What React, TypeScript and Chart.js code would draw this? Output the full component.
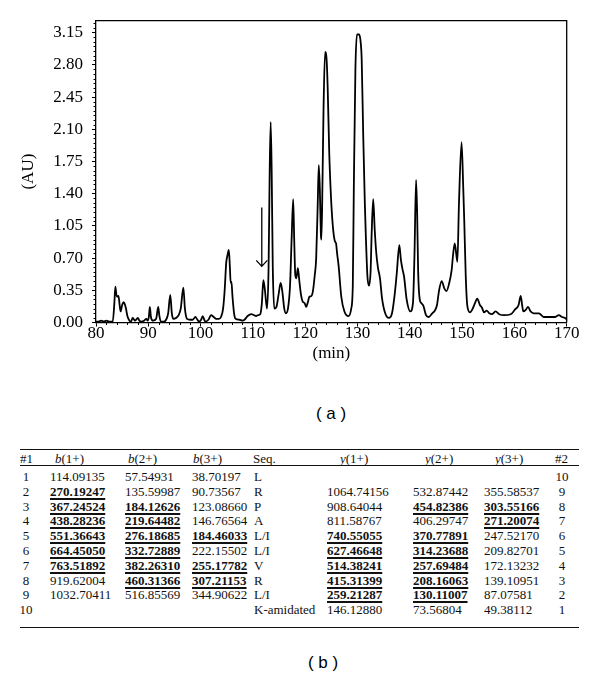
import React, { useEffect, useRef } from "react";
import { Chart, registerables } from "chart.js";
Chart.register(...registerables);

// ---- Chromatogram (a) ----
const retentionTimes = [
  80.0, 80.5, 81.0, 81.5, 82.0, 82.5, 83.2, 83.5, 83.7, 83.9, 84.1, 84.3, 84.5, 84.7, 85.0, 85.3, 85.7, 86.0, 86.4, 86.7,
  87.0, 87.3, 87.5, 87.8, 88.0, 88.3, 88.6, 89.2, 89.6, 89.9, 90.1, 90.3, 90.5, 90.9, 91.5, 91.9, 92.1, 92.4, 93.0, 93.4,
  93.8, 94.2, 94.5, 94.8, 95.3, 95.8, 96.2, 96.7, 97.0, 97.4, 98.0, 98.5, 99.0, 99.4, 99.7, 100.1, 100.4, 100.7, 100.9, 101.5,
  102.0, 102.5, 103.0, 103.5, 103.9, 104.3, 104.6, 104.9, 105.1, 105.4, 105.6, 105.75, 105.9, 106.1, 106.4, 106.7, 107.4, 108.0, 108.4, 109.0,
  109.7, 110.2, 110.6, 111.0, 111.4, 111.7, 112.0, 112.3, 112.7, 113.0, 113.2, 113.4, 113.6, 113.8, 114.1, 114.5, 114.9, 115.3, 115.6, 116.0,
  116.3, 116.7, 117.1, 117.4, 117.7, 117.9, 118.1, 118.3, 118.6, 118.9, 119.2, 119.5, 119.9, 120.2, 120.5, 120.8, 121.2, 121.5, 121.8, 122.1,
  122.4, 122.6, 122.8, 123.0, 123.1, 123.3, 123.5, 123.8, 124.1, 124.3, 124.6, 124.9, 125.1, 125.4, 125.7, 125.9, 126.1, 126.4, 126.9, 127.5,
  128.3, 128.8, 129.1, 129.3, 129.6, 129.9, 130.3, 130.6, 130.8, 131.1, 131.4, 131.6, 131.9, 132.2, 132.5, 132.7, 133.0, 133.3, 133.6, 133.9,
  134.3, 134.7, 135.3, 136.0, 136.6, 137.1, 137.5, 138.0, 138.3, 138.6, 138.9, 139.4, 140.1, 140.6, 140.9, 141.2, 141.4, 141.6, 141.9, 142.2,
  142.6, 143.1, 143.6, 144.3, 144.8, 145.2, 145.6, 146.1, 146.6, 147.0, 147.5, 148.0, 148.3, 148.6, 149.1, 149.4, 149.9, 150.2, 150.4, 150.7,
  151.0, 151.5, 152.1, 152.6, 152.9, 153.4, 153.8, 154.2, 154.7, 155.2, 155.7, 156.4, 157.1, 158.0, 159.3, 160.1, 160.8, 161.2, 161.5, 161.7,
  162.2, 162.6, 163.1, 163.7, 164.7, 165.6, 166.9, 167.8, 168.5, 169.1, 169.9, 170.0,
];
const absorbances = [
  0.01, 0.01, 0.02, 0.01, 0.02, 0.01, 0.01, 0.20, 0.39, 0.30, 0.28, 0.29, 0.20, 0.12, 0.19, 0.22, 0.16, 0.07, 0.02, 0.01,
  0.05, 0.03, 0.02, 0.04, 0.05, 0.02, 0.01, 0.02, 0.04, 0.02, 0.06, 0.17, 0.06, 0.02, 0.04, 0.17, 0.08, 0.01, 0.01, 0.03,
  0.10, 0.30, 0.10, 0.04, 0.05, 0.08, 0.15, 0.38, 0.15, 0.04, 0.03, 0.03, 0.06, 0.03, 0.01, 0.03, 0.07, 0.03, 0.01, 0.03,
  0.08, 0.06, 0.04, 0.04, 0.06, 0.15, 0.35, 0.65, 0.72, 0.79, 0.60, 0.43, 0.44, 0.28, 0.10, 0.04, 0.03, 0.02, 0.03, 0.07,
  0.09, 0.08, 0.07, 0.08, 0.09, 0.20, 0.46, 0.35, 0.15, 0.60, 1.60, 2.18, 1.60, 0.60, 0.15, 0.17, 0.30, 0.43, 0.35, 0.15,
  0.10, 0.15, 0.40, 0.90, 1.34, 0.90, 0.52, 0.48, 0.59, 0.44, 0.30, 0.23, 0.21, 0.17, 0.22, 0.28, 0.29, 0.35, 0.50, 0.70,
  1.30, 1.71, 1.45, 0.95, 0.90, 1.50, 2.30, 2.94, 2.85, 2.55, 1.84, 1.40, 1.19, 0.98, 0.88, 0.86, 0.75, 0.61, 0.28, 0.12,
  0.07, 0.15, 0.40, 1.48, 2.75, 3.13, 3.13, 3.05, 2.86, 2.02, 1.30, 0.93, 0.50, 0.40, 0.55, 0.95, 1.34, 1.00, 0.75, 0.60,
  0.48, 0.26, 0.10, 0.05, 0.10, 0.30, 0.53, 0.84, 0.68, 0.58, 0.50, 0.25, 0.12, 0.21, 0.75, 1.55, 1.20, 0.55, 0.25, 0.21,
  0.18, 0.08, 0.06, 0.10, 0.13, 0.19, 0.35, 0.45, 0.37, 0.34, 0.42, 0.57, 0.75, 0.86, 0.66, 1.29, 1.96, 1.50, 1.13, 0.50,
  0.18, 0.11, 0.16, 0.23, 0.26, 0.19, 0.16, 0.11, 0.13, 0.10, 0.09, 0.12, 0.09, 0.08, 0.09, 0.14, 0.19, 0.29, 0.18, 0.12,
  0.14, 0.17, 0.12, 0.10, 0.10, 0.06, 0.06, 0.06, 0.08, 0.06, 0.04, 0.03,
];
const xTickValues = [80, 90, 100, 110, 120, 130, 140, 150, 160, 170];
const yTickValues = [0, 0.35, 0.7, 1.05, 1.4, 1.75, 2.1, 2.45, 2.8, 3.15];
const xMinorStep = 2;
const yMinorStep = 0.05;
const arrowTime = 111.7;
const arrowTop = 1.25;
const arrowTip = 0.61;

// ---- Table (b) ----
const headers = ["#1", "b(1+)", "b(2+)", "b(3+)", "Seq.", "y(1+)", "y(2+)", "y(3+)", "#2"];
const rowIndex = ["1", "2", "3", "4", "5", "6", "7", "8", "9", "10"];
const bIon1 = ["114.09135", "270.19247", "367.24524", "438.28236", "551.36643", "664.45050", "763.51892", "919.62004", "1032.70411", ""];
const bIon2 = ["57.54931", "135.59987", "184.12626", "219.64482", "276.18685", "332.72889", "382.26310", "460.31366", "516.85569", ""];
const bIon3 = ["38.70197", "90.73567", "123.08660", "146.76564", "184.46033", "222.15502", "255.17782", "307.21153", "344.90622", ""];
const residues = ["L", "R", "P", "A", "L/I", "L/I", "V", "R", "L/I", "K-amidated"];
const yIon1 = ["", "1064.74156", "908.64044", "811.58767", "740.55055", "627.46648", "514.38241", "415.31399", "259.21287", "146.12880"];
const yIon2 = ["", "532.87442", "454.82386", "406.29747", "370.77891", "314.23688", "257.69484", "208.16063", "130.11007", "73.56804"];
const yIon3 = ["", "355.58537", "303.55166", "271.20074", "247.52170", "209.82701", "172.13232", "139.10951", "87.07581", "49.38112"];
const rowIndex2 = ["10", "9", "8", "7", "6", "5", "4", "3", "2", "1"];
const boldB1 = [false, true, true, true, true, true, true, false, false, false];
const boldB2 = [false, false, true, true, true, true, true, true, false, false];
const boldB3 = [false, false, false, false, true, false, true, true, false, false];
const boldY1 = [false, false, false, false, true, true, true, true, true, false];
const boldY2 = [false, false, true, false, true, true, true, true, true, false];
const boldY3 = [false, false, true, true, false, false, false, false, false, false];

const SERIF = "'Liberation Serif', 'Times New Roman', serif";
const SANS = "'Liberation Sans', Arial, sans-serif";

const overlayPlugin = {
  id: "overlay",
  afterDraw(chart: any) {
    const { ctx, chartArea, scales } = chart;
    const xs = scales.x;
    const ys = scales.y;
    ctx.save();
    ctx.strokeStyle = "#000";
    ctx.lineWidth = 1.3;
    // frame top and right
    ctx.beginPath();
    ctx.moveTo(chartArea.left, chartArea.top);
    ctx.lineTo(chartArea.right, chartArea.top);
    ctx.lineTo(chartArea.right, chartArea.bottom);
    ctx.stroke();
    // minor ticks
    ctx.lineWidth = 1;
    ctx.beginPath();
    for (let v = xs.min; v <= xs.max + 1e-9; v += xMinorStep) {
      if (Math.abs(v % 10) < 1e-6) continue;
      const px = Math.round(xs.getPixelForValue(v)) + 0.5;
      ctx.moveTo(px, chartArea.bottom);
      ctx.lineTo(px, chartArea.bottom + 2.5);
    }
    for (let i = 0; ; i++) {
      const v = i * yMinorStep;
      if (v > ys.max) break;
      if (i % 7 === 0) continue;
      const py = Math.round(ys.getPixelForValue(v)) + 0.5;
      ctx.moveTo(chartArea.left, py);
      ctx.lineTo(chartArea.left - 2.5, py);
    }
    ctx.stroke();
    // arrow
    const ax = xs.getPixelForValue(arrowTime);
    const ay0 = ys.getPixelForValue(arrowTop);
    const ay1 = ys.getPixelForValue(arrowTip);
    ctx.lineWidth = 1.3;
    ctx.beginPath();
    ctx.moveTo(ax, ay0);
    ctx.lineTo(ax, ay1);
    ctx.moveTo(ax - 5.5, ay1 - 6);
    ctx.lineTo(ax, ay1);
    ctx.lineTo(ax + 5.5, ay1 - 6);
    ctx.stroke();
    ctx.restore();
  },
};

const cellBase: React.CSSProperties = {
  position: "absolute",
  fontFamily: SERIF,
  fontSize: 13,
  lineHeight: "14px",
  color: "#111",
  whiteSpace: "nowrap",
};

function Cell({ text, left, top, bold, center }: { text: string; left: number; top: number; bold?: boolean; center?: boolean }) {
  const style: React.CSSProperties = {
    ...cellBase,
    top,
    left: center ? left - 15 : left,
    width: center ? 30 : undefined,
    textAlign: center ? "center" : "left",
    fontWeight: bold ? "bold" : "normal",
  };
  if (bold) {
    style.textDecoration = "underline";
    style.textDecorationThickness = "2px";
    style.textUnderlineOffset = "2px";
  }
  return <div style={style}>{text}</div>;
}

function Header({ text, left }: { text: string; left: number }) {
  const italic = /^[by]\(/.test(text);
  return (
    <div style={{ ...cellBase, top: 452, left }}>
      {italic ? (
        <>
          <i>{text[0]}</i>
          {text.slice(1)}
        </>
      ) : (
        text
      )}
    </div>
  );
}

export default function App() {
  const ref = useRef<HTMLCanvasElement>(null);
  useEffect(() => {
    const points = retentionTimes.map((t, i) => ({ x: t, y: absorbances[i] }));
    const tickFont = { family: SERIF, size: 17 };
    const chart = new Chart(ref.current as HTMLCanvasElement, {
      type: "line",
      data: {
        datasets: [
          {
            data: points,
            borderColor: "#000",
            borderWidth: 1.8,
            pointRadius: 0,
            cubicInterpolationMode: "monotone",
            fill: false,
          },
        ],
      },
      options: {
        responsive: false,
        animation: false,
        events: [],
        layout: { padding: { left: 0, right: 33.3, top: 20.7, bottom: 0 } },
        plugins: { legend: { display: false }, tooltip: { enabled: false } },
        scales: {
          x: {
            type: "linear",
            min: 80,
            max: 170,
            afterFit: (s: any) => {
              s.height = 57.5;
            },
            afterBuildTicks: (s: any) => {
              s.ticks = xTickValues.map((v) => ({ value: v }));
            },
            ticks: { color: "#000", font: tickFont, padding: -3, maxRotation: 0, autoSkip: false },
            grid: { drawOnChartArea: false, drawTicks: true, tickLength: 4, color: "#000", tickWidth: 1 },
            border: { display: true, color: "#000", width: 1.3 },
            title: {
              display: true,
              text: "(min)",
              color: "#000",
              font: { family: SERIF, size: 17 },
              padding: { top: 0, bottom: 16.5 },
            },
          },
          y: {
            type: "linear",
            min: 0,
            max: 3.28,
            afterFit: (s: any) => {
              s.width = 96;
            },
            afterBuildTicks: (s: any) => {
              s.ticks = yTickValues.map((v) => ({ value: v }));
            },
            ticks: {
              color: "#000",
              font: tickFont,
              padding: 9,
              autoSkip: false,
              callback: (v: any) => Number(v).toFixed(2),
            },
            grid: { drawOnChartArea: false, drawTicks: true, tickLength: 4, color: "#000", tickWidth: 1 },
            border: { display: true, color: "#000", width: 1.3 },
            title: {
              display: true,
              text: "(AU)",
              color: "#000",
              font: { family: SERIF, size: 17 },
              padding: { top: 18.8, bottom: 0 },
            },
          },
        },
      },
      plugins: [overlayPlugin],
    } as any);
    return () => chart.destroy();
  }, []);

  const rowTop = (i: number) => 470 + i * 14.8;
  const columns: { values: string[]; left: number; bold?: boolean[]; center?: boolean }[] = [
    { values: rowIndex, left: 26, center: true },
    { values: bIon1, left: 50, bold: boldB1 },
    { values: bIon2, left: 125, bold: boldB2 },
    { values: bIon3, left: 192, bold: boldB3 },
    { values: residues, left: 254 },
    { values: yIon1, left: 327, bold: boldY1 },
    { values: yIon2, left: 413, bold: boldY2 },
    { values: yIon3, left: 484, bold: boldY3 },
    { values: rowIndex2, left: 562, center: true },
  ];
  const headerLefts = [20, 55, 128, 193, 253, 340, 425, 495, 555];

  return (
    <div
      style={{
        position: "absolute",
        left: 0,
        top: 0,
        width: 600,
        height: 678,
        background: "#fff",
        overflow: "hidden",
      }}
    >
      <canvas
        ref={ref}
        width={600}
        height={380}
        style={{ position: "absolute", left: 0, top: 0, width: 600, height: 380 }}
      />
      <div
        style={{
          position: "absolute",
          left: 231,
          width: 200,
          top: 403,
          textAlign: "center",
          fontFamily: SANS,
          fontSize: 17,
          lineHeight: "22px",
          color: "#000",
          whiteSpace: "pre",
        }}
      >
        {"( a )"}
      </div>

      <div style={{ position: "absolute", left: 20, width: 559, top: 448.5, height: 1.5, background: "#111" }} />
      <div style={{ position: "absolute", left: 20, width: 559, top: 464.5, height: 1, background: "#111" }} />
      <div style={{ position: "absolute", left: 20, width: 559, top: 626.5, height: 1.5, background: "#111" }} />

      {headers.map((h, i) => (
        <Header key={h} text={h} left={headerLefts[i]} />
      ))}
      {columns.map((col, ci) =>
        col.values.map((v, ri) =>
          v ? (
            <Cell
              key={ci + "-" + ri}
              text={v}
              left={col.left}
              top={rowTop(ri)}
              bold={col.bold ? col.bold[ri] : false}
              center={col.center}
            />
          ) : null
        )
      )}

      <div
        style={{
          position: "absolute",
          left: 223,
          width: 200,
          top: 652,
          textAlign: "center",
          fontFamily: SANS,
          fontSize: 17,
          lineHeight: "22px",
          color: "#000",
          whiteSpace: "pre",
        }}
      >
        {"( b )"}
      </div>
    </div>
  );
}
